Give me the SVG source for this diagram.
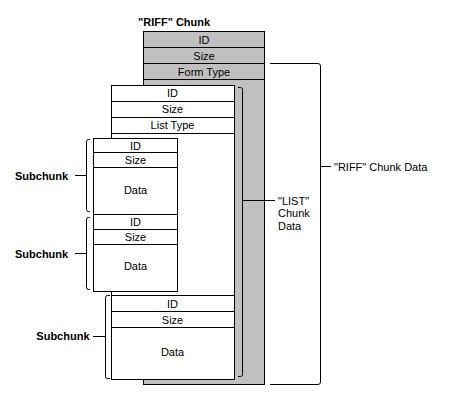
<svg xmlns="http://www.w3.org/2000/svg" width="465" height="400" viewBox="0 0 465 400">
<style>
  .box { fill: #ffffff; stroke: #000000; stroke-width: 1; shape-rendering: crispEdges; }
  .gray { fill: #c0c0c0; stroke: #000000; stroke-width: 1; shape-rendering: crispEdges; }
  .sep { stroke: #000000; stroke-width: 1; shape-rendering: crispEdges; }
  .br { fill: none; stroke: #000000; stroke-width: 1; }
  .t { font-family: "Liberation Sans", Arial, sans-serif; font-size: 11px; fill: #000000; text-anchor: middle; }
  .lbl { font-family: "Liberation Sans", Arial, sans-serif; font-size: 11px; fill: #000000; }
  .b { font-weight: bold; }
</style>
<rect width="465" height="400" fill="#ffffff"/>

<g id="riff-chunk">
  <text class="lbl b" x="138" y="26">"RIFF" Chunk</text>
  <rect class="gray" x="143.5" y="31.5" width="121" height="353"/>
  <line class="sep" x1="143" y1="47.5" x2="265" y2="47.5"/>
  <line class="sep" x1="143" y1="63.5" x2="265" y2="63.5"/>
  <line class="sep" x1="143" y1="79.5" x2="265" y2="79.5"/>
  <text class="t" x="204" y="43.5">ID</text>
  <text class="t" x="204" y="59.5">Size</text>
  <text class="t" x="204" y="75.5">Form Type</text>
</g>

<g id="list-chunk">
  <rect class="box" x="111.5" y="85.5" width="122.5" height="293.5"/>
  <line class="sep" x1="111" y1="101.5" x2="234" y2="101.5"/>
  <line class="sep" x1="111" y1="117.5" x2="234" y2="117.5"/>
  <line class="sep" x1="111" y1="133.5" x2="234" y2="133.5"/>
  <text class="t" x="172.5" y="97">ID</text>
  <text class="t" x="172.5" y="113">Size</text>
  <text class="t" x="172.5" y="129">List Type</text>
</g>

<g id="subchunk-1">
  <rect class="box" x="93.5" y="138.5" width="84" height="76"/>
  <line class="sep" x1="93" y1="152.5" x2="178" y2="152.5"/>
  <line class="sep" x1="93" y1="167.5" x2="178" y2="167.5"/>
  <text class="t" x="135.5" y="149.5">ID</text>
  <text class="t" x="135.5" y="163.5">Size</text>
  <text class="t" x="135.5" y="193.5">Data</text>
  <text class="lbl b" x="15" y="180">Subchunk</text>
</g>

<g id="subchunk-2">
  <rect class="box" x="93.5" y="214.5" width="84" height="77"/>
  <line class="sep" x1="93" y1="229.5" x2="178" y2="229.5"/>
  <line class="sep" x1="93" y1="244.5" x2="178" y2="244.5"/>
  <text class="t" x="135.5" y="225.5">ID</text>
  <text class="t" x="135.5" y="240.5">Size</text>
  <text class="t" x="135.5" y="270">Data</text>
  <text class="lbl b" x="15" y="257.5">Subchunk</text>
</g>

<g id="subchunk-3">
  <rect class="box" x="111.5" y="295.5" width="122.5" height="83.5"/>
  <line class="sep" x1="111" y1="311.5" x2="234" y2="311.5"/>
  <line class="sep" x1="111" y1="327.5" x2="234" y2="327.5"/>
  <text class="t" x="172.5" y="308">ID</text>
  <text class="t" x="172.5" y="323.5">Size</text>
  <text class="t" x="172.5" y="355.5">Data</text>
  <text class="lbl b" x="89.5" y="340" text-anchor="end">Subchunk</text>
</g>

<g id="connectors">
  <!-- RIFF chunk data bracket -->
  <path class="br" d="M270,63.5 H318 Q320.5,63.5 320.5,66 V382 Q320.5,384.5 318,384.5 H270"/>
  <line class="sep" x1="320" y1="166.5" x2="331" y2="166.5"/>
  <!-- LIST chunk data bracket -->
  <path class="br" d="M238,87.5 H240.5 Q242.5,87.5 242.5,89.5 V374.5 Q242.5,376.5 240.5,376.5 H238"/>
  <line class="sep" x1="242" y1="200.5" x2="275" y2="200.5"/>
  <!-- Subchunk brackets -->
  <path class="br" d="M90,139.5 H88.5 Q86.5,139.5 86.5,141.5 V209.5 Q86.5,211.5 88.5,211.5 H90"/>
  <line class="sep" x1="75" y1="175.5" x2="86" y2="175.5"/>
  <path class="br" d="M90,217.5 H88.5 Q86.5,217.5 86.5,219.5 V287.5 Q86.5,289.5 88.5,289.5 H90"/>
  <line class="sep" x1="75" y1="253.5" x2="86" y2="253.5"/>
  <path class="br" d="M110,295.5 H107.5 Q105.5,295.5 105.5,297.5 V376.5 Q105.5,378.5 107.5,378.5 H110"/>
  <line class="sep" x1="93" y1="336.5" x2="105" y2="336.5"/>
</g>

<g id="labels">
  <text class="lbl" x="334" y="171">"RIFF" Chunk Data</text>
  <text class="lbl" x="278" y="204.5">"LIST"</text>
  <text class="lbl" x="278" y="217">Chunk</text>
  <text class="lbl" x="278" y="229.5">Data</text>
</g>
</svg>
